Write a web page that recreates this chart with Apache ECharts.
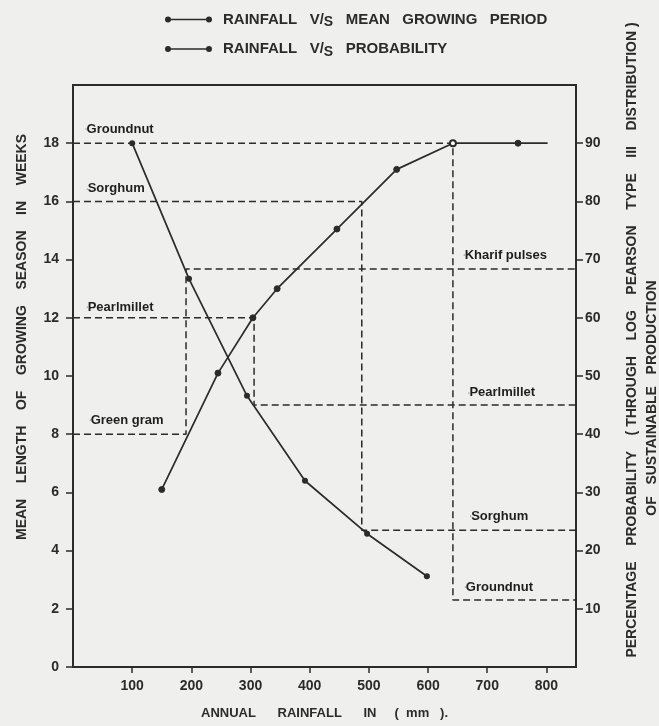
<!DOCTYPE html>
<html><head><meta charset="utf-8">
<script src="https://cdn.jsdelivr.net/npm/echarts@6/dist/echarts.min.js"></script>
<style>html,body{margin:0;padding:0;background:#efefed}#c{width:659px;height:726px}</style>
</head><body><div id="c"></div>
<script>
// Rainfall (mm) vs mean growing period (weeks)
const growingRain  = [150, 245, 304, 345, 446, 547, 642, 752, 802];
const growingWeeks = [6.1, 10.1, 12.0, 13.0, 15.05, 17.1, 18.0, 18.0, 18.0];
// Rainfall (mm) vs percentage probability
const probRain    = [100, 196, 294, 392, 497, 598];
const probPercent = [90, 66.7, 46.6, 32.0, 22.9, 15.6];
const seriesNames = ['RAINFALL V/S MEAN GROWING PERIOD', 'RAINFALL V/S PROBABILITY'];
// Dashed reading guides: [rainfall mm, probability %]
const guideGroundnut  = [[0, 90], [642, 90], [642, 11.5], [850, 11.5]];
const guideSorghum    = [[0, 80], [488, 80], [488, 23.5], [850, 23.5]];
const guidePearl      = [[0, 60], [306, 60], [306, 45.0], [850, 45.0]];
const guideGreenGram  = [[0, 40], [191, 40], [191, 68.4], [850, 68.4]];
// Crop labels: [rainfall mm, weeks, text]
const cropLabels = [
  [22, 18.49, 'Groundnut'], [24, 16.43, 'Sorghum'], [24, 12.37, 'Pearlmillet'], [29, 8.49, 'Green gram'],
  [661, 14.16, 'Kharif pulses'], [669, 9.42, 'Pearlmillet'], [672, 5.19, 'Sorghum'], [663, 2.75, 'Groundnut']
];
const xTicks = [0, 850, 100];
const weekTicks = [0, 20, 2];
const probTicks = [0, 100, 10];

const ink = '#2b2b2b';
const F = "'Liberation Sans', Arial, Helvetica, sans-serif";
const chart = echarts.init(document.getElementById('c'), null, {renderer: 'canvas'});
const icon = 'path://M3,0A3,3 0 1,1 3,6A3,3 0 1,1 3,0Z M44,0A3,3 0 1,1 44,6A3,3 0 1,1 44,0Z M3,2.2L44,2.2L44,3.8L3,3.8Z';
const dashed = {color: ink, width: 1.5, type: [7, 4]};
function guide(d) {
  return {type: 'line', yAxisIndex: 1, data: d, symbol: 'none', lineStyle: dashed, silent: true, z: 1};
}
chart.setOption({
  animation: false,
  backgroundColor: '#efefed',
  textStyle: {fontFamily: F},
  legend: {
    orient: 'vertical', left: 160, top: 7, itemGap: 12, itemWidth: 47, itemHeight: 7,
    data: seriesNames.map(n => ({name: n, icon: icon})),
    formatter: n => n.replace('RAINFALL V/S ', 'RAINFALL   V/{s|S}   ').replace('MEAN GROWING PERIOD', 'MEAN   GROWING   PERIOD'),
    textStyle: {fontFamily: F, fontSize: 15, fontWeight: 'bold', color: ink, padding: [0, 0, 0, 6],
      rich: {s: {fontFamily: F, fontSize: 14, fontWeight: 'bold', color: ink, padding: [6, 0, 0, 0]}}}
  },
  grid: {left: 73, right: 83, top: 85, bottom: 59, show: true, borderColor: ink, borderWidth: 2, backgroundColor: 'transparent'},
  xAxis: {
    type: 'value', min: xTicks[0], max: xTicks[1], interval: xTicks[2],
    name: 'ANNUAL      RAINFALL      IN     (  mm   ).', nameLocation: 'middle', nameGap: 40,
    nameTextStyle: {fontFamily: F, fontSize: 13, fontWeight: 'bold', color: ink},
    axisLine: {lineStyle: {color: ink, width: 2}},
    axisTick: {show: true, length: 6, lineStyle: {color: ink, width: 1.5}},
    axisLabel: {showMinLabel: false, showMaxLabel: false, margin: 12, fontFamily: F, fontSize: 14, fontWeight: 'bold', color: ink,
      formatter: v => (v === 0 || v === 850) ? '' : String(v)},
    splitLine: {show: false}
  },
  yAxis: [{
    type: 'value', min: weekTicks[0], max: weekTicks[1], interval: weekTicks[2], position: 'left',
    name: 'MEAN    LENGTH    OF    GROWING    SEASON    IN    WEEKS', nameLocation: 'middle', nameGap: 44, nameRotate: 90,
    nameTextStyle: {fontFamily: F, fontSize: 14, fontWeight: 'bold', color: ink, padding: [0, 0, 0, 78]},
    axisLine: {show: true, lineStyle: {color: ink, width: 2}},
    axisTick: {show: true, length: 7, lineStyle: {color: ink, width: 1.5}},
    axisLabel: {showMaxLabel: false, margin: 14, fontFamily: F, fontSize: 14, fontWeight: 'bold', color: ink},
    splitLine: {show: false}
  }, {
    type: 'value', min: probTicks[0], max: probTicks[1], interval: probTicks[2], position: 'right',
    name: 'PERCENTAGE    PROBABILITY    ( THROUGH    LOG    PEARSON    TYPE    III    DISTRIBUTION )',
    nameLocation: 'middle', nameGap: 49, nameRotate: 90,
    nameTextStyle: {fontFamily: F, fontSize: 14, fontWeight: 'bold', color: ink, padding: [0, 0, 0, 72]},
    axisLine: {show: true, lineStyle: {color: ink, width: 2}},
    axisTick: {show: true, length: 7, lineStyle: {color: ink, width: 1.5}},
    axisLabel: {showMinLabel: false, showMaxLabel: false, margin: 9, fontFamily: F, fontSize: 14, fontWeight: 'bold', color: ink},
    splitLine: {show: false}
  }],
  graphic: [{
    type: 'text', x: 652, y: 398, rotation: Math.PI / 2,
    style: {text: 'OF   SUSTAINABLE   PRODUCTION', font: "bold 14px " + F, fill: ink, align: 'center', verticalAlign: 'middle'}
  }],
  series: [
    guide(guideGroundnut), guide(guideSorghum), guide(guidePearl), guide(guideGreenGram),
    {
      name: seriesNames[0], type: 'line', yAxisIndex: 0, z: 3,
      data: growingRain.map((r, i) => {
        const p = {value: [r, growingWeeks[i]]};
        if (i === 6) { p.symbol = 'emptyCircle'; p.symbolSize = 6; }
        if (i === growingRain.length - 1) { p.symbol = 'none'; }
        return p;
      }),
      symbol: 'circle', symbolSize: 6, itemStyle: {color: ink, borderColor: ink}, lineStyle: {color: ink, width: 1.7}
    },
    {
      name: seriesNames[1], type: 'line', yAxisIndex: 1, z: 3,
      data: probRain.map((r, i) => [r, probPercent[i]]),
      symbol: 'circle', symbolSize: 6, itemStyle: {color: ink}, lineStyle: {color: ink, width: 1.7}
    },
    {
      type: 'scatter', yAxisIndex: 0, silent: true, z: 4,
      data: cropLabels.map(c => ({value: [c[0], c[1]], name: c[2]})),
      symbolSize: 1, itemStyle: {color: ink, opacity: 1, borderWidth: 0},
      label: {show: true, position: 'right', distance: 0, formatter: p => p.name, opacity: 1,
        fontFamily: F, fontSize: 13, fontWeight: 'bold', color: '#1e1e1e', textBorderWidth: 0}
    }
  ]
});
</script></body></html>
